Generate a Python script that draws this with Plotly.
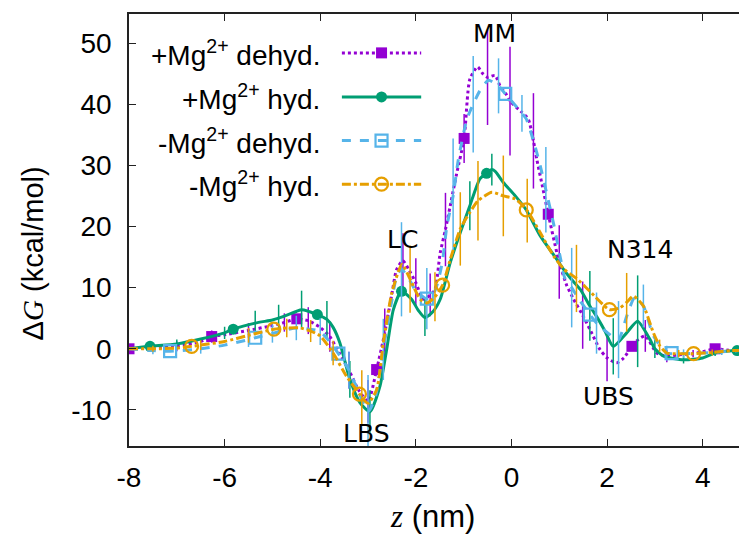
import plotly.graph_objects as go

# ---------------- data ----------------
# +Mg2+ dehyd. (purple, dotted, filled squares)
pd_x = [-8, -7.5, -7, -6.5, -6.27, -6, -5.5, -5, -4.75, -4.5, -4.25, -4.0, -3.8, -3.6, -3.4, -3.2, -3.0, -2.82,
        -2.65, -2.5, -2.4, -2.27, -2.15, -2.0, -1.84, -1.7, -1.6, -1.49, -1.38, -1.28, -1.15, -0.99, -0.87, -0.71,
        -0.6, -0.5, -0.34, -0.24, -0.1, -0.03, 0.2, 0.35, 0.46, 0.53, 0.65, 0.77, 0.95, 1.0, 1.15, 1.3, 1.49, 1.64,
        1.85, 2.0, 2.2, 2.35, 2.52, 2.65, 2.8, 3.04, 3.25, 3.5, 3.8, 4.0, 4.26, 4.5, 4.76]
pd_y = [0, 0.1, 0.4, 1.2, 2.0, 2.3, 3.0, 3.8, 4.3, 4.9, 4.6, 3.5, 2.0, -0.7, -3.5, -6.7, -8.6, -3.4,
        2.6, 9.0, 13.0, 14.4, 13.0, 10.8, 8.1, 8.8, 9.7, 15.7, 19.5, 23.4, 28.5, 34.4, 44.1, 46.1,
        45.0, 44.4, 44.7, 43.0, 41.5, 40.5, 38.8, 37.6, 34.0, 31.0, 26.5, 22.0, 15.7, 14.2, 10.5, 8.1, 5.5, 3.2,
        -0.1, -1.5, -2.3, -1.5, 0.4, 1.5, 2.1, -0.7, -1.2, -1.0, -0.8, -0.5, 0.0, -0.2, -0.3]
pd_e = [0.3, 0, 0.8, 0, 1.0, 0, 1.2, 0, 1.5, 0, 2.2, 0, 2.5, 0, 3.0, 0, 3.5, 0,
        4.0, 0, 0, 4.5, 0, 4.0, 0, 3.5, 0, 0, 6.0, 0, 0, 4.0, 0, 0,
        0, 7.8, 0, 0, 0, 8.9, 0, 0, 7.8, 0, 0, 0, 0, 6.0, 0, 0, 5.5, 0,
        0, 3.8, 0, 0, 0, 0, 2.6, 0, 1.0, 0, 0.6, 0, 0.5, 0, 0]
pd_mx = [-8, -6.27, -4.49, -2.82, -0.99, 0.77, 2.52, 4.26]
pd_my = [0, 2.0, 4.9, -3.4, 34.4, 22.0, 0.4, 0.0]

# +Mg2+ hyd. (green, solid, filled circles)
ph_x = [-8, -7.56, -7, -6.5, -6, -5.82, -5.36, -5, -4.87, -4.5, -4.39, -4.06, -3.86, -3.73, -3.59, -3.38, -3.17,
        -2.96, -2.75, -2.61, -2.47, -2.30, -2.09, -1.95, -1.81, -1.65, -1.49, -1.28, -1.07, -0.87, -0.66, -0.52,
        -0.41, -0.34, -0.17, 0.08, 0.31, 0.6, 0.95, 1.09, 1.24, 1.44, 1.64, 1.78, 1.95, 2.13, 2.41, 2.64, 2.9,
        3.0, 3.18, 3.6, 4.0, 4.26, 4.68, 4.76]
ph_y = [0, 0.4, 0.8, 1.6, 2.6, 3.2, 4.2, 4.7, 5.0, 6.1, 6.4, 5.6, 4.8, 3.5, 1.0, -5.0, -8.8,
        -10.3, -6.1, -0.1, 6.4, 9.4, 8.1, 6.3, 5.1, 6.0, 8.1, 14.1, 19.0, 23.4, 27.8, 28.7,
        29.3, 29.0, 27.2, 25.0, 22.7, 18.5, 14.6, 13.0, 11.5, 9.7, 7.0, 5.3, 3.0, 0.4, 2.6, 4.5, 1.5,
        0.0, -1.2, -1.8, -1.5, -0.7, -0.3, -0.3]
ph_e = [0, 0, 0.7, 0, 1.0, 0, 2.0, 0, 2.2, 0, 3.1, 0, 3.0, 0, 0, 3.0, 0,
        3.5, 0, 0, 0, 0, 0, 0, 3.0, 0, 0, 0, 0, 4.0, 0, 0,
        2.6, 0, 0, 0, 0, 0, 0, 0, 0, 0, 5.7, 0, 0, 4.6, 0, 7.5, 0,
        1.5, 0, 0.6, 0, 0.5, 0, 0]
ph_mx = [-7.56, -5.82, -4.06, -2.30, -0.52, 4.72]
ph_my = [0.4, 3.2, 5.6, 9.4, 28.7, -0.3]

# -Mg2+ dehyd. (light blue, dashed, open squares)
md_x = [-8, -7.5, -7.14, -6.5, -6, -5.5, -5.36, -5, -4.5, -4.0, -3.62, -3.4, -3.2, -3.0, -2.85, -2.68, -2.5,
        -2.4, -2.3, -2.15, -2.0, -1.77, -1.6, -1.45, -1.35, -1.22, -1.11, -0.93, -0.8, -0.66, -0.48, -0.27,
        -0.13, 0.06, 0.22, 0.31, 0.49, 0.6, 0.72, 0.88, 1.02, 1.12, 1.26, 1.37, 1.64, 1.78, 1.92, 2.08, 2.24,
        2.41, 2.58, 2.76, 2.97, 3.25, 3.35, 3.6, 4.0, 4.4, 4.76]
md_y = [0, -0.3, -0.4, 0.0, 0.6, 1.5, 1.8, 2.5, 3.4, 2.8, -0.8, -3.5, -7.0, -10.3, -8.0, -0.1, 8.0,
        11.9, 13.0, 11.5, 9.5, 8.2, 9.5, 14.0, 20.1, 25.0, 31.0, 37.6, 40.0, 42.2, 43.9, 43.0,
        41.7, 40.0, 38.5, 37.6, 33.2, 30.0, 26.0, 20.5, 15.0, 11.5, 10.0, 8.6, 5.6, 4.2, 3.2, 2.2, 1.5,
        5.3, 8.4, 7.0, 2.1, -0.7, -0.8, -0.8, -0.7, -0.5, -0.3]
md_e = [0, 0.6, 0, 0.8, 0, 1.2, 0, 1.5, 2.0, 2.2, 0, 3.0, 0, 6.0, 0, 5.0, 0,
        0, 7.7, 0, 0, 5.0, 0, 0, 0, 9.4, 0, 0, 7.9, 0, 0, 4.5,
        0, 0, 3.0, 0, 0, 0, 7.0, 0, 0, 0, 6.5, 0, 0, 5.0, 0, 0, 6.3,
        0, 0, 3.5, 0, 1.2, 0, 0.7, 0, 0.5, 0]
md_mx = [-7.14, -5.36, -3.62, -1.77, -0.13, 1.64, 3.35]
md_my = [-0.4, 1.8, -0.8, 8.2, 41.7, 5.6, -0.7]

# -Mg2+ hyd. (orange, dash-dot, open circles)
mh_x = [-8, -7.5, -7, -6.69, -6.5, -6, -5.5, -4.97, -4.7, -4.42, -4.2, -4.0, -3.73, -3.45, -3.18, -3.13, -3.0,
        -2.82, -2.68, -2.5, -2.29, -2.12, -1.91, -1.77, -1.6, -1.44, -1.28, -1.07, -0.87, -0.7, -0.41, -0.17,
        0.08, 0.33, 0.6, 0.88, 1.1, 1.36, 1.64, 2.05, 2.27, 2.41, 2.55, 2.76, 2.97, 3.1, 3.25, 3.5, 3.81,
        4.2, 4.6, 4.76]
mh_y = [0, 0.0, 0.1, 0.4, 0.6, 1.2, 2.2, 3.2, 3.4, 3.4, 2.9, 2.1, -0.7, -4.5, -7.4, -8.0, -8.9,
        -6.7, 1.0, 9.2, 13.8, 11.4, 8.1, 7.5, 8.5, 10.4, 14.6, 19.6, 22.3, 24.2, 25.6, 25.0,
        24.5, 22.6, 19.0, 15.2, 13.0, 11.5, 9.4, 6.4, 6.7, 7.6, 8.6, 7.0, 2.6, 0.5, -0.7, -0.8, -0.8,
        -0.6, -0.3, -0.3]
mh_e = [0, 0.5, 0, 0, 0.8, 0, 1.2, 0, 1.5, 0, 1.8, 0, 2.0, 0, 0, 4.5, 0,
        0, 0, 0, 0, 5.5, 0, 0, 4.0, 0, 0, 6.0, 0, 6.5, 0, 6.6,
        0, 5.2, 0, 0, 0, 5.5, 0, 0, 0, 4.8, 0, 0, 0, 1.0, 0, 0.6, 0,
        0.5, 0, 0]
mh_mx = [-6.69, -4.97, -3.18, -1.44, 0.31, 2.05, 3.81]
mh_my = [0.4, 3.2, -7.4, 10.4, 22.7, 6.4, -0.8]

legend_labels = ["+Mg<sup>2+</sup> dehyd.", "+Mg<sup>2+</sup> hyd.",
                 "-Mg<sup>2+</sup> dehyd.", "-Mg<sup>2+</sup> hyd."]

site_labels = ["MM", "LC", "N314", "UBS", "LBS"]
site_x = [-0.36, -2.28, 2.69, 2.02, -3.04]
site_y = [51.5, 17.9, 16.3, -7.8, -13.9]

x_ticks = [-8, -6, -4, -2, 0, 2, 4]
x_tick_text = ["-8", "-6", "-4", "-2", "0", "2", "4"]
y_ticks = [-10, 0, 10, 20, 30, 40, 50]
y_tick_text = ["-10", "0", "10", "20", "30", "40", "50"]

# ---------------- styles ----------------
PURPLE = "#9400D3"
GREEN = "#009E73"
BLUE = "#56B4E9"
ORANGE = "#E69F00"

series = [
    (pd_x, pd_y, pd_e, pd_mx, pd_my, PURPLE, "dot", dict(symbol="square", size=11, color=PURPLE)),
    (ph_x, ph_y, ph_e, ph_mx, ph_my, GREEN, "solid", dict(symbol="circle", size=11, color=GREEN)),
    (md_x, md_y, md_e, md_mx, md_my, BLUE, "dash",
     dict(symbol="square-open", size=12, color=BLUE, line=dict(width=2.2, color=BLUE))),
    (mh_x, mh_y, mh_e, mh_mx, mh_my, ORANGE, "dashdot",
     dict(symbol="circle-open", size=13, color=ORANGE, line=dict(width=2.2, color=ORANGE))),
]

fig = go.Figure()

for (sx, sy, se, mx, my, col, dash, mk) in series:
    fig.add_trace(go.Scatter(
        x=sx, y=sy, mode="lines",
        line=dict(color=col, width=3, dash=dash, shape="spline", smoothing=0.6),
        error_y=dict(type="data", array=se, visible=True, width=0, thickness=1.5, color=col),
        showlegend=False, hoverinfo="skip"))
    fig.add_trace(go.Scatter(
        x=mx, y=my, mode="markers", marker=mk, showlegend=False, hoverinfo="skip"))

# ---------------- custom legend (text left, sample right, gnuplot style) ----------------
leg_rows = [0.910, 0.808, 0.707, 0.606]
leg_x = [0.349, 0.414, 0.479]
for (sx, sy, se, mx, my, col, dash, mk), ry, lab in zip(series, leg_rows, legend_labels):
    fig.add_trace(go.Scatter(
        x=leg_x, y=[ry, ry, ry], xaxis="x2", yaxis="y2", mode="lines",
        line=dict(color=col, width=3, dash=dash), showlegend=False, hoverinfo="skip"))
    fig.add_trace(go.Scatter(
        x=[leg_x[1]], y=[ry], xaxis="x2", yaxis="y2", mode="markers",
        marker=mk, showlegend=False, hoverinfo="skip"))
    fig.add_annotation(x=0.316, y=ry, xref="paper", yref="paper", text=lab,
                       showarrow=False, xanchor="right", yanchor="middle",
                       font=dict(family="Liberation Sans", size=28, color="black"))

for lab, lx, ly in zip(site_labels, site_x, site_y):
    fig.add_annotation(x=lx, y=ly, xref="x", yref="y", text=lab, showarrow=False,
                       xanchor="center", yanchor="middle",
                       font=dict(family="DejaVu Sans", size=25, color="black"))

# axis titles
fig.add_annotation(x=-0.158, y=0.445, xref="paper", yref="paper", textangle=-90,
                   text="Δ<span style='font-family:Liberation Serif'><i>G</i></span> (kcal/mol)",
                   showarrow=False, xanchor="center", yanchor="middle",
                   font=dict(family="Liberation Sans", size=29, color="black"))
fig.add_annotation(x=0.497, y=-0.164, xref="paper", yref="paper",
                   text="<span style='font-family:Liberation Serif'><i>z</i></span> (nm)",
                   showarrow=False, xanchor="center", yanchor="middle",
                   font=dict(family="Liberation Sans", size=31, color="black"))

axis_common = dict(showgrid=False, zeroline=False, showline=True, linecolor="#222",
                   linewidth=1.5, ticks="inside", ticklen=7, tickwidth=1.3, tickcolor="#222",
                   tickfont=dict(family="Liberation Sans", size=28, color="black"))

fig.update_layout(
    width=739, height=535,
    margin=dict(l=129, r=0, t=14, b=89),
    paper_bgcolor="white", plot_bgcolor="white",
    showlegend=False,
    xaxis=dict(range=[-8, 4.76], tickvals=x_ticks, ticktext=x_tick_text, mirror="ticks",
               ticklabelstandoff=6, **axis_common),
    yaxis=dict(range=[-15.9, 54.75], tickvals=y_ticks, ticktext=y_tick_text, mirror=False,
               ticklabelstandoff=10, **axis_common),
    xaxis2=dict(overlaying="x", range=[0, 1], visible=False, anchor="y2"),
    yaxis2=dict(overlaying="y", range=[0, 1], visible=False, anchor="x2"),
)

fig.write_html("out.html")
